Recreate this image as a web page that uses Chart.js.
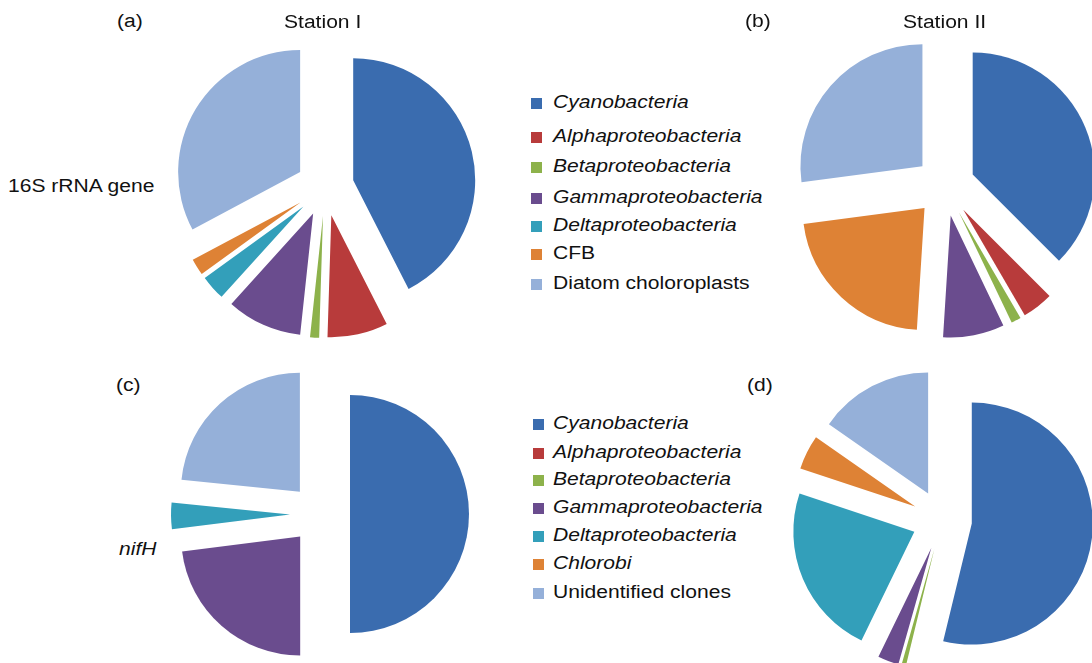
<!DOCTYPE html>
<html>
<head>
<meta charset="utf-8">
<script src="https://cdn.jsdelivr.net/npm/chart.js@4.4.0/dist/chart.umd.min.js"></script>
<style>
  html, body { margin: 0; padding: 0; background: #fff; overflow: hidden; }
  body { width: 1092px; height: 663px; position: relative; font-family: "Liberation Sans", Arial, sans-serif; color: #111; }
  .pie { position: absolute; width: 320px; height: 320px; }
  .txt { position: absolute; font-size: 18px; line-height: 18px; white-space: nowrap; transform: scaleX(1.17); transform-origin: 0 0; }
  .sw { position: absolute; width: 11px; height: 11px; }
  i { font-style: italic; }
</style>
</head>
<body>
<div class="pie" style="left:165px;top:27px"><canvas id="pieA"></canvas></div>
<div class="pie" style="left:785px;top:26px"><canvas id="pieB"></canvas></div>
<div class="pie" style="left:160px;top:354px"><canvas id="pieC"></canvas></div>
<div class="pie" style="left:782px;top:360px"><canvas id="pieD"></canvas></div>

<div class="txt" style="left:117px;top:12px">(a)</div>
<div class="txt" style="left:284px;top:13px">Station I</div>
<div class="txt" style="left:745px;top:12px">(b)</div>
<div class="txt" style="left:903px;top:13px">Station II</div>
<div class="txt" style="left:8px;top:177px">16S rRNA gene</div>
<div class="txt" style="left:116px;top:376px">(c)</div>
<div class="txt" style="left:747px;top:376px">(d)</div>
<div class="txt" style="left:119px;top:540px"><i>nifH</i></div>

<div id="legend1"></div>
<div id="legend2"></div>

<script>
// Taxon groups (order = slice order, clockwise from 12 o'clock)
const groups16S = ['Cyanobacteria', 'Alphaproteobacteria', 'Betaproteobacteria', 'Gammaproteobacteria',
  'Deltaproteobacteria', 'CFB', 'Diatom choloroplasts'];
const groupsNifH = ['Cyanobacteria', 'Alphaproteobacteria', 'Betaproteobacteria', 'Gammaproteobacteria',
  'Deltaproteobacteria', 'Chlorobi', 'Unidentified clones'];
const italic16S = [true, true, true, true, true, false, false];
const italicNifH = [true, true, true, true, true, true, false];

// Percent of clones
const stationI16S = [42.5, 8.0, 1.2, 10.0, 3.3, 2.2, 32.8];
const stationII16S = [37.5, 4.1, 1.3, 8.1, 0, 21.9, 27.1];
const stationINifH = [50.0, 0, 0, 23.0, 3.6, 0, 23.4];
const stationIINifH = [53.8, 0, 0.6, 2.8, 22.9, 4.6, 15.3];

const colors = ['#3a6caf', '#b83b3b', '#8db24b', '#6a4c8e', '#339fba', '#de8235', '#95b0d9'];

// Excel-like exploded pie: shift every slice outward along its mid angle
const explode = {
  id: 'explode',
  beforeDatasetDraw(chart, args, opts) {
    const ctx = chart.ctx;
    args.meta.data.forEach(arc => {
      if (!arc.circumference) return;
      const mid = (arc.startAngle + arc.endAngle) / 2;
      ctx.save();
      ctx.translate(Math.cos(mid) * opts.distance, Math.sin(mid) * opts.distance);
      arc.draw(ctx);
      ctx.restore();
    });
    return false;
  }
};

function makePie(id, labels, values, radius, distance) {
  new Chart(document.getElementById(id), {
    type: 'pie',
    data: {
      labels: labels,
      datasets: [{
        data: values,
        backgroundColor: colors,
        borderWidth: 0,
        radius: radius
      }]
    },
    options: {
      responsive: true,
      maintainAspectRatio: false,
      animation: false,
      events: [],
      layout: { padding: 0 },
      plugins: {
        legend: { display: false },
        tooltip: { enabled: false },
        explode: { distance: distance }
      }
    },
    plugins: [explode]
  });
}

makePie('pieA', groups16S, stationI16S, 122, 29);
makePie('pieB', groups16S, stationII16S, 122, 30);
makePie('pieC', groupsNifH, stationINifH, 119, 30);
makePie('pieD', groupsNifH, stationIINifH, 121, 30);

// HTML legends
function makeLegend(id, labels, italics, rows, swX) {
  const box = document.getElementById(id);
  labels.forEach((name, i) => {
    const y = rows[i];
    const sw = document.createElement('div');
    sw.className = 'sw';
    sw.style.left = swX + 'px';
    sw.style.top = (y - 4) + 'px';
    sw.style.background = colors[i];
    box.appendChild(sw);
    const t = document.createElement('div');
    t.className = 'txt';
    t.style.left = '553px';
    t.style.top = (y - 9) + 'px';
    if (italics[i]) {
      const it = document.createElement('i');
      it.textContent = name;
      t.appendChild(it);
    } else {
      t.textContent = name;
    }
    box.appendChild(t);
  });
}

makeLegend('legend1', groups16S, italic16S, [102, 136, 166, 197, 225, 253, 283], 531);
makeLegend('legend2', groupsNifH, italicNifH, [423, 452, 479, 507, 535, 563, 592], 533);
</script>
</body>
</html>
